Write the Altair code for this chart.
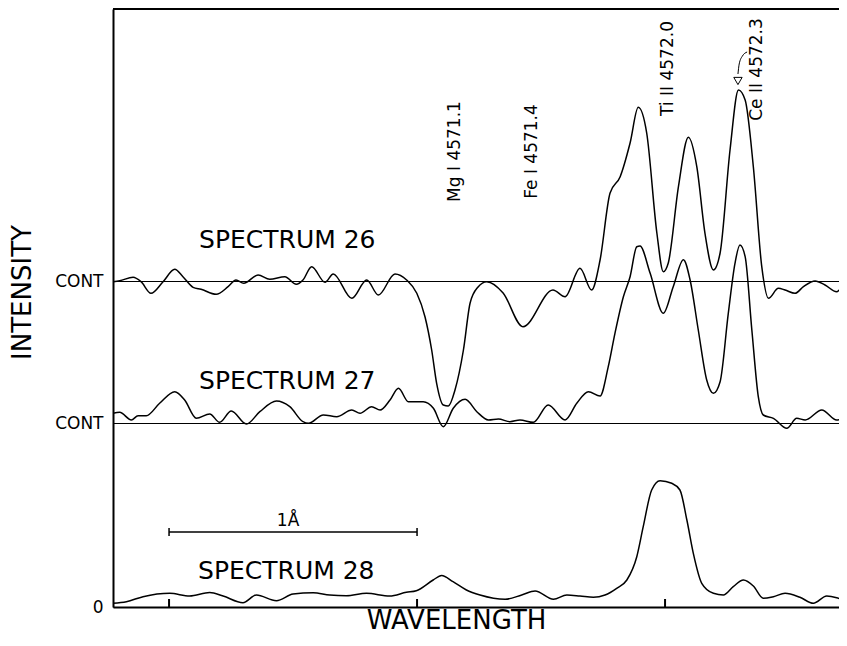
import altair as alt
import pandas as pd

# ---------------- data ----------------
# wavelength in Angstrom, intensity in arbitrary units (0 = zero level)
wl26 = [4569.774, 4569.801, 4569.855, 4569.887, 4569.927, 4569.976, 4570.023, 4570.056, 4570.097, 4570.129,
        4570.190, 4570.238, 4570.270, 4570.301, 4570.359, 4570.406, 4570.467, 4570.513, 4570.540, 4570.575,
        4570.629, 4570.662, 4570.737, 4570.797, 4570.844, 4570.911, 4570.958, 4570.999, 4571.032, 4571.059,
        4571.079, 4571.106, 4571.126, 4571.153, 4571.187, 4571.214, 4571.246, 4571.281, 4571.347, 4571.427,
        4571.548, 4571.597, 4571.657, 4571.704, 4571.738, 4571.778, 4571.819, 4571.859, 4571.892, 4571.926,
        4571.967, 4571.993, 4572.013, 4572.054, 4572.094, 4572.128, 4572.161, 4572.195, 4572.222, 4572.262,
        4572.296, 4572.323, 4572.356, 4572.390, 4572.417, 4572.457, 4572.484, 4572.524, 4572.558, 4572.605,
        4572.645, 4572.692, 4572.726]
int26 = [325.3, 326.3, 329.7, 325.3, 313.7, 325.3, 337.7, 330.3, 319.7, 317.7,
         312.7, 320.3, 327.0, 323.7, 332.0, 327.7, 330.3, 322.7, 327.0, 340.3,
         324.7, 333.0, 308.7, 327.0, 312.0, 333.0, 327.0, 313.7, 290.3, 257.0,
         223.7, 202.0, 201.0, 217.0, 257.0, 304.0, 320.0, 325.3, 314.0, 280.3,
         317.0, 310.3, 338.7, 317.0, 347.0, 413.7, 430.3, 464.0, 499.7, 474.0,
         374.0, 335.3, 344.0, 420.3, 469.7, 440.3, 373.7, 337.0, 354.0, 457.0,
         517.0, 507.0, 440.3, 340.3, 308.7, 318.7, 317.0, 313.7, 320.3, 326.0,
         322.0, 315.3, 327.0]

wl27 = [4569.774, 4569.801, 4569.848, 4569.875, 4569.908, 4569.962, 4570.023, 4570.063, 4570.110, 4570.164,
        4570.204, 4570.251, 4570.312, 4570.366, 4570.433, 4570.487, 4570.540, 4570.562, 4570.622, 4570.676,
        4570.737, 4570.770, 4570.817, 4570.851, 4570.891, 4570.925, 4570.965, 4571.025, 4571.066, 4571.106,
        4571.146, 4571.194, 4571.241, 4571.288, 4571.328, 4571.375, 4571.415, 4571.469, 4571.529, 4571.597,
        4571.644, 4571.691, 4571.738, 4571.771, 4571.798, 4571.832, 4571.859, 4571.886, 4571.899, 4571.940,
        4571.993, 4572.033, 4572.074, 4572.101, 4572.134, 4572.168, 4572.195, 4572.222, 4572.255, 4572.282,
        4572.302, 4572.323, 4572.350, 4572.376, 4572.396, 4572.437, 4572.491, 4572.531, 4572.565, 4572.632,
        4572.692, 4572.733]
int27 = [193.7, 194.7, 187.0, 191.3, 191.3, 203.7, 215.3, 207.0, 188.7, 193.0,
         184.7, 196.0, 183.0, 195.3, 206.0, 200.3, 185.3, 183.7, 192.0, 190.3,
         197.0, 193.7, 200.3, 197.0, 207.0, 218.7, 205.3, 205.3, 198.7, 180.3,
         198.7, 207.7, 195.3, 187.0, 188.0, 185.3, 187.0, 184.7, 202.0, 187.0,
         203.7, 215.3, 211.0, 240.3, 273.7, 310.3, 330.3, 360.3, 361.0, 333.7,
         293.7, 320.3, 347.3, 327.0, 277.0, 227.0, 213.7, 225.3, 293.7, 343.7,
         362.0, 350.3, 277.0, 210.3, 192.0, 188.7, 178.7, 188.7, 187.0, 197.0,
         187.0, 190.3]

wl28 = [4569.774, 4569.828, 4569.895, 4570.003, 4570.083, 4570.164, 4570.218, 4570.298, 4570.352, 4570.433,
        4570.500, 4570.581, 4570.648, 4570.715, 4570.796, 4570.890, 4570.957, 4570.997, 4571.065, 4571.099,
        4571.145, 4571.199, 4571.254, 4571.355, 4571.422, 4571.476, 4571.550, 4571.604, 4571.657, 4571.711,
        4571.758, 4571.805, 4571.846, 4571.886, 4571.912, 4571.946, 4571.980, 4572.027, 4572.060, 4572.088,
        4572.114, 4572.148, 4572.195, 4572.235, 4572.275, 4572.316, 4572.356, 4572.396, 4572.437, 4572.484,
        4572.544, 4572.598, 4572.652, 4572.692, 4572.733]
int28 = [3.7, 5.3, 10.3, 13.7, 11.0, 14.5, 11.0, 4.3, 12.0, 6.3,
         13.0, 14.3, 12.0, 11.3, 13.7, 11.0, 14.7, 16.3, 27.0, 31.5,
         25.3, 17.0, 12.0, 7.7, 12.0, 16.0, 7.7, 12.0, 11.0, 9.7,
         12.0, 18.7, 27.0, 50.3, 80.3, 117.0, 126.3, 123.7, 117.0, 87.0,
         53.7, 23.7, 13.7, 12.0, 20.3, 27.0, 21.0, 8.7, 10.3, 13.7,
         9.7, 3.7, 11.0, 9.3, 5.3]

spectrum_names = ["26", "27", "28"]
cont_levels = [326, 184]          # continuum levels of spectra 26 and 27
zero_level = [0]

tick_wavelengths = [4570.0, 4571.0, 4572.0]

line_ids = ["Mg I 4571.1", "Fe I 4571.4", "Ti II 4572.0", "Ce II 4572.3"]
line_label_wl = [4571.153, 4571.464, 4572.012, 4572.371]
line_label_int = [455.5, 455.5, 538.5, 537.5]

spec_labels = ["SPECTRUM 26", "SPECTRUM 27", "SPECTRUM 28"]
spec_label_wl = [4570.121, 4570.121, 4570.117]
spec_label_int = [359, 218, 28]

scale_bar_start = [4570.0]
scale_bar_end = [4571.0]
scale_bar_level = [75]
scale_bar_label = ["1Å"]

arrow_wl = [4572.331, 4572.312, 4572.299, 4572.294]
arrow_int = [555, 551, 543, 533]
arrow_head_wl = [4572.294]
arrow_head_int = [526]

# ---------------- build ----------------
PLOT_W = 726
X_MIN = 4569.774
X_MAX = X_MIN + PLOT_W / 248.0
Y_MAX = 598
FONT = "DejaVu Sans"

xs = alt.Scale(domain=[X_MIN, X_MAX], nice=False, zero=False)
ys = alt.Scale(domain=[0, Y_MAX], nice=False, zero=False)

x_axis = alt.Axis(title="WAVELENGTH", ticks=False, labels=False, grid=False,
                  domainColor="black", domainWidth=2,
                  titleFont=FONT, titleFontSize=26, titleFontWeight="normal", titleColor="black",
                  titleX=343, titleY=21, titleBaseline="alphabetic", titleAlign="center")
y_axis = alt.Axis(title="INTENSITY", values=zero_level + cont_levels,
                  labelExpr="datum.value == 0 ? '0' : 'CONT'",
                  ticks=False, grid=True, gridColor="black", gridWidth=1, gridOpacity=1,
                  domainColor="black", domainWidth=2,
                  labelFont=FONT, labelFontSize=17, labelColor="black", labelPadding=10,
                  titleFont=FONT, titleFontSize=26, titleFontWeight="normal", titleColor="black",
                  titleX=-91, titleY=283, titleAngle=270, titleBaseline="middle", titleAlign="center")


def X(field):
    return alt.X(field, type="quantitative", scale=xs, axis=x_axis)


def Y(field):
    return alt.Y(field, type="quantitative", scale=ys, axis=y_axis)


spec_df = pd.concat([
    pd.DataFrame({"wavelength": wl26, "intensity": int26, "spectrum": spectrum_names[0]}),
    pd.DataFrame({"wavelength": wl27, "intensity": int27, "spectrum": spectrum_names[1]}),
    pd.DataFrame({"wavelength": wl28, "intensity": int28, "spectrum": spectrum_names[2]}),
], ignore_index=True)

curves = alt.Chart(spec_df).mark_line(color="black", strokeWidth=1.5, interpolate="monotone", clip=True).encode(
    x=X("wavelength"), y=Y("intensity"), detail="spectrum:N")

top_border = alt.Chart(pd.DataFrame({"intensity": [Y_MAX]})).mark_rule(color="black", strokeWidth=2).encode(
    y=Y("intensity"))

ticks_df = pd.DataFrame({"wavelength": tick_wavelengths, "intensity": [0] * 3, "top": [8] * 3})
ticks = alt.Chart(ticks_df).mark_rule(color="black", strokeWidth=2).encode(
    x=X("wavelength"), y=Y("intensity"), y2="top:Q")

bar_df = pd.DataFrame({"wavelength": scale_bar_start, "end": scale_bar_end, "intensity": scale_bar_level})
bar = alt.Chart(bar_df).mark_rule(color="black", strokeWidth=1.5).encode(
    x=X("wavelength"), x2="end:Q", y=Y("intensity"))
caps_df = pd.DataFrame({"wavelength": scale_bar_start + scale_bar_end,
                        "intensity": [scale_bar_level[0] - 4] * 2, "hi": [scale_bar_level[0] + 4] * 2})
caps = alt.Chart(caps_df).mark_rule(color="black", strokeWidth=1.5).encode(
    x=X("wavelength"), y=Y("intensity"), y2="hi:Q")
bar_text = alt.Chart(pd.DataFrame({"wavelength": [(scale_bar_start[0] + scale_bar_end[0]) / 2 - 0.02],
                                   "intensity": [scale_bar_level[0] + 6], "t": scale_bar_label})).mark_text(
    font=FONT, fontSize=17, color="black", align="center", baseline="alphabetic").encode(
    x=X("wavelength"), y=Y("intensity"), text="t:N")

spec_text = alt.Chart(pd.DataFrame({"wavelength": spec_label_wl, "intensity": spec_label_int,
                                    "t": spec_labels})).mark_text(
    font=FONT, fontSize=25, color="black", align="left", baseline="alphabetic").encode(
    x=X("wavelength"), y=Y("intensity"), text="t:N")

line_text = alt.Chart(pd.DataFrame({"wavelength": line_label_wl, "intensity": line_label_int,
                                    "t": line_ids})).mark_text(
    font=FONT, fontSize=17, color="black", align="center", baseline="middle", angle=270).encode(
    x=X("wavelength"), y=Y("intensity"), text="t:N")

arrow_line = alt.Chart(pd.DataFrame({"wavelength": arrow_wl, "intensity": arrow_int,
                                     "o": list(range(len(arrow_wl)))})).mark_line(
    color="black", strokeWidth=1, interpolate="monotone").encode(
    x=X("wavelength"), y=Y("intensity"), order="o:O")
arrow_head = alt.Chart(pd.DataFrame({"wavelength": arrow_head_wl, "intensity": arrow_head_int})).mark_point(
    shape="triangle-down", size=70, filled=False, color="black", strokeWidth=1, opacity=1).encode(
    x=X("wavelength"), y=Y("intensity"))

chart = alt.layer(curves, top_border, ticks, bar, caps, bar_text, spec_text, line_text,
                  arrow_line, arrow_head).properties(
    width=PLOT_W, height=Y_MAX,
    padding={"left": 105, "top": 1, "right": 0, "bottom": 28},
    autosize=alt.AutoSizeParams(type="none"),
    background="white",
).configure_view(stroke=None)

chart.save("out.html", embed_options={"renderer": "svg", "actions": False})
